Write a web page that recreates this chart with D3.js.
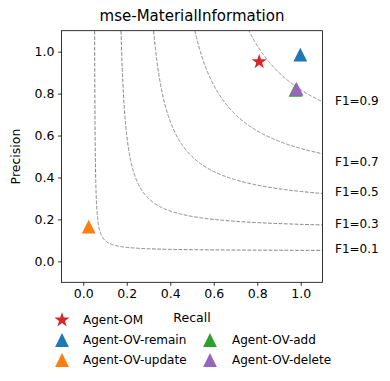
<!DOCTYPE html>
<html>
<head>
<meta charset="utf-8">
<script src="https://cdn.jsdelivr.net/npm/d3@7"></script>
<style>
  html, body { margin: 0; padding: 0; background: #fff; }
  text { font-family: "DejaVu Sans", sans-serif; fill: #000; }
</style>
</head>
<body>
<svg id="chart" width="390" height="381"></svg>
<script>
// ---- data ----
const title = "mse-MaterialInformation";
const xTicks = [0.0, 0.2, 0.4, 0.6, 0.8, 1.0];
const yTicks = [0.0, 0.2, 0.4, 0.6, 0.8, 1.0];
const f1Levels = [0.1, 0.3, 0.5, 0.7, 0.9];
const f1LabelY = [0.056, 0.175, 0.326, 0.47, 0.764];
const agents = ["Agent-OM", "Agent-OV-remain", "Agent-OV-update", "Agent-OV-add", "Agent-OV-delete"];
const recall = [0.809, 0.998, 0.025, 0.976, 0.981];
const precision = [0.952, 0.986, 0.166, 0.818, 0.823];
const colors = ["#d62728", "#1f77b4", "#ff7f0e", "#2ca02c", "#9467bd"];
const shapes = ["star", "tri", "tri", "tri", "tri"];

// ---- layout ----
const svg = d3.select("#chart");
const L = 61.5, R = 322.5, T = 30.7, B = 282.3;
const x = d3.scaleLinear().domain([-0.1, 1.1]).range([L, R]);
const y = d3.scaleLinear().domain([-0.1, 1.1]).range([B, T]);

svg.append("defs").append("clipPath").attr("id", "clip")
  .append("rect").attr("x", L).attr("y", T).attr("width", R - L).attr("height", B - T);

function starPath(Ro) {
  const ri = Ro * 0.381966;
  const pts = [];
  for (let i = 0; i < 10; i++) {
    const a = -Math.PI / 2 + i * Math.PI / 5;
    const rr = i % 2 === 0 ? Ro : ri;
    pts.push([rr * Math.cos(a), rr * Math.sin(a)]);
  }
  return "M" + pts.map(p => p[0].toFixed(2) + "," + p[1].toFixed(2)).join("L") + "Z";
}
function triPath(h) {
  return `M0,${-h}L${-h},${h}L${h},${h}Z`;
}
function shapePath(s) { return s === "star" ? starPath(8) : triPath(6.9); }

// ---- F1 iso-curves ----
const curveG = svg.append("g").attr("clip-path", "url(#clip)");
f1Levels.forEach((f, i) => {
  const x0 = f / 2;
  const xStart = f * 1.2 / (2 * 1.2 - f);
  const pts = [];
  const n = 400;
  const lo = Math.log(xStart - x0), hi = Math.log(1.15 - x0);
  for (let k = 0; k <= n; k++) {
    const xv = x0 + Math.exp(lo + (hi - lo) * k / n);
    pts.push([xv, f * xv / (2 * xv - f)]);
  }
  curveG.append("path")
    .attr("d", d3.line().x(d => x(d[0])).y(d => y(d[1]))(pts))
    .attr("fill", "none").attr("stroke", "#808080").attr("stroke-width", 1)
    .attr("stroke-dasharray", "3.7,1.6");
  svg.append("text").attr("x", 335).attr("y", y(f1LabelY[i]))
    .attr("dominant-baseline", "middle").attr("font-size", 12)
    .text("F1=" + f.toFixed(1));
});

// ---- points ----
agents.forEach((a, i) => {
  svg.append("path")
    .attr("d", shapePath(shapes[i]))
    .attr("transform", `translate(${x(recall[i])},${y(precision[i])})`)
    .attr("fill", colors[i]);
});

// ---- axes ----
const xAxis = svg.append("g").attr("transform", `translate(0,${B})`)
  .call(d3.axisBottom(x).tickValues(xTicks).tickFormat(d3.format(".1f")).tickSizeOuter(0).tickSize(3.5).tickPadding(3.5));
const yAxis = svg.append("g").attr("transform", `translate(${L},0)`)
  .call(d3.axisLeft(y).tickValues(yTicks).tickFormat(d3.format(".1f")).tickSizeOuter(0).tickSize(3.5).tickPadding(3.5));
[xAxis, yAxis].forEach(g => {
  g.select(".domain").remove();
  g.selectAll("line").attr("stroke", "#000").attr("stroke-width", 0.8);
  g.selectAll("text").attr("font-size", 12.5).attr("font-family", "DejaVu Sans").attr("fill", "#000");
});
svg.append("rect").attr("x", L).attr("y", T).attr("width", R - L).attr("height", B - T)
  .attr("fill", "none").attr("stroke", "#000").attr("stroke-width", 0.8);

// ---- labels ----
svg.append("text").attr("x", (L + R) / 2).attr("y", 21).attr("text-anchor", "middle")
  .attr("font-size", 15).text(title);
svg.append("text").attr("x", (L + R) / 2).attr("y", 322).attr("text-anchor", "middle")
  .attr("font-size", 12.5).text("Recall");
svg.append("text").attr("transform", `translate(20,${(T + B) / 2}) rotate(-90)`)
  .attr("text-anchor", "middle").attr("font-size", 12.5).text("Precision");

// ---- legend ----
const legendPos = [[0, 0], [0, 1], [0, 2], [1, 1], [1, 2]];
const colX = [62, 210], textX = [83, 232], rowY = [320, 340, 360];
agents.forEach((a, i) => {
  const [c, r] = legendPos[i];
  svg.append("path").attr("d", shapePath(shapes[i]))
    .attr("transform", `translate(${colX[c]},${rowY[r]})`).attr("fill", colors[i]);
  svg.append("text").attr("x", textX[c]).attr("y", rowY[r]).attr("dominant-baseline", "middle")
    .attr("font-size", 12).text(a);
});
</script>
</body>
</html>
